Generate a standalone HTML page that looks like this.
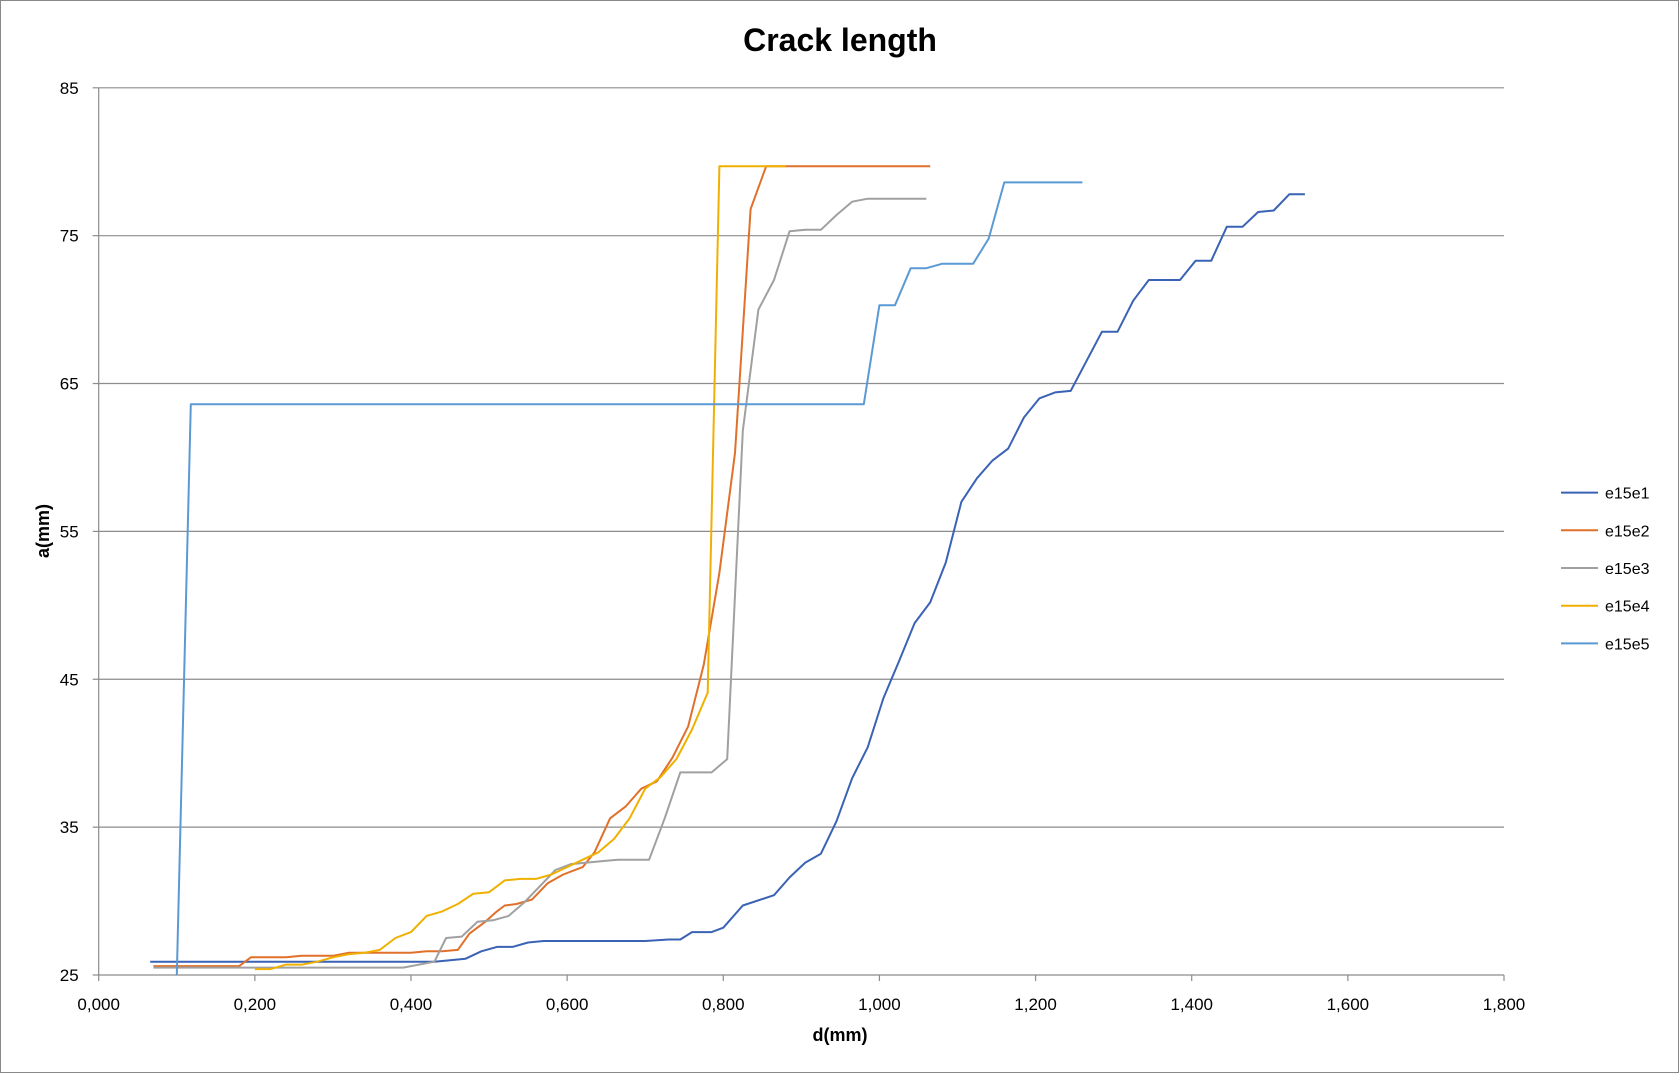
<!DOCTYPE html>
<html><head><meta charset="utf-8"><style>
html,body{margin:0;padding:0;background:#fff;}
svg{display:block;font-family:"Liberation Sans",Calibri,sans-serif;}
</style></head><body>
<svg id="chart" width="1679" height="1073" viewBox="0 0 1679 1073" xmlns="http://www.w3.org/2000/svg">
<rect x="0.5" y="0.5" width="1678" height="1072" fill="#fff" stroke="#888"/>
<text x="840" y="51" text-anchor="middle" font-size="32" font-weight="bold" fill="#000">Crack length</text>
<g id="grid"></g><g id="axes"></g><g id="series"></g><g id="legend"></g>
<text x="840" y="1041" text-anchor="middle" font-size="18" font-weight="bold">d(mm)</text>
<text transform="translate(49,531) rotate(-90)" text-anchor="middle" font-size="18" font-weight="bold">a(mm)</text>
</svg>
<script>
const xTicks=[0,0.2,0.4,0.6,0.8,1.0,1.2,1.4,1.6,1.8];
const xTickLabels=["0,000","0,200","0,400","0,600","0,800","1,000","1,200","1,400","1,600","1,800"];
const yTicks=[25,35,45,55,65,75,85];
const seriesNames=["e15e1","e15e2","e15e3","e15e4","e15e5"];
const seriesColors=["#3a62b5","#e0702a","#a0a0a0","#f0b000","#5a9ad4"];
const e1x=[0.066,0.43,0.47,0.49,0.51,0.53,0.55,0.57,0.70,0.73,0.745,0.76,0.785,0.80,0.825,0.865,0.885,0.905,0.925,0.945,0.965,0.985,1.005,1.025,1.045,1.065,1.085,1.105,1.125,1.145,1.165,1.185,1.205,1.225,1.245,1.285,1.305,1.325,1.345,1.385,1.405,1.425,1.445,1.465,1.485,1.505,1.525,1.545];
const e1y=[25.9,25.9,26.1,26.6,26.9,26.9,27.2,27.3,27.3,27.4,27.4,27.9,27.9,28.2,29.7,30.4,31.6,32.6,33.2,35.4,38.3,40.4,43.7,46.2,48.8,50.2,52.9,57.0,58.6,59.8,60.6,62.7,64.0,64.4,64.5,68.5,68.5,70.6,72.0,72.0,73.3,73.3,75.6,75.6,76.6,76.7,77.8,77.8];
const e2x=[0.07,0.18,0.195,0.24,0.26,0.30,0.32,0.40,0.42,0.44,0.46,0.475,0.495,0.51,0.52,0.535,0.555,0.575,0.595,0.62,0.635,0.655,0.675,0.695,0.715,0.735,0.755,0.775,0.795,0.815,0.835,0.855,1.065];
const e2y=[25.6,25.6,26.2,26.2,26.3,26.3,26.5,26.5,26.6,26.6,26.7,27.8,28.6,29.3,29.7,29.8,30.1,31.2,31.8,32.3,33.3,35.6,36.4,37.6,38.1,39.7,41.8,46.0,52.2,60.3,76.8,79.7,79.7];
const e3x=[0.07,0.39,0.43,0.445,0.465,0.485,0.505,0.525,0.545,0.565,0.585,0.605,0.625,0.645,0.665,0.705,0.725,0.745,0.785,0.805,0.825,0.845,0.865,0.885,0.905,0.925,0.945,0.965,0.985,1.06];
const e3y=[25.5,25.5,25.9,27.5,27.6,28.6,28.7,29.0,29.9,31.0,32.1,32.5,32.6,32.7,32.8,32.8,35.6,38.7,38.7,39.6,61.8,70.0,72.0,75.3,75.4,75.4,76.4,77.3,77.5,77.5];
const e4x=[0.2,0.22,0.24,0.26,0.28,0.30,0.32,0.34,0.36,0.38,0.40,0.42,0.44,0.46,0.48,0.50,0.52,0.54,0.56,0.58,0.60,0.62,0.64,0.66,0.68,0.70,0.72,0.74,0.76,0.78,0.795,0.86,0.88];
const e4y=[25.4,25.4,25.7,25.7,25.9,26.2,26.4,26.5,26.7,27.5,27.9,29.0,29.3,29.8,30.5,30.6,31.4,31.5,31.5,31.8,32.3,32.8,33.3,34.2,35.6,37.6,38.4,39.6,41.6,44.1,79.7,79.7,79.7];
const e5x=[0.10,0.118,0.98,1.0,1.02,1.04,1.06,1.08,1.12,1.14,1.16,1.26];
const e5y=[25.0,63.6,63.6,70.3,70.3,72.8,72.8,73.1,73.1,74.8,78.6,78.6];
const allX=[e1x,e2x,e3x,e4x,e5x], allY=[e1y,e2y,e3y,e4y,e5y];

const NS="http://www.w3.org/2000/svg";
const X0=98.7,X1=1504,Y0=975,Y1=87.8;
function sx(v){return X0+(v-0)/(1.8-0)*(X1-X0);}
function sy(v){return Y0-(v-25)/(85-25)*(Y0-Y1);}
function mk(t,a,p){const e=document.createElementNS(NS,t);for(const k in a)e.setAttribute(k,a[k]);p.appendChild(e);return e;}
const grid=document.getElementById('grid'),axes=document.getElementById('axes'),ser=document.getElementById('series'),leg=document.getElementById('legend');
yTicks.forEach((v,i)=>{
  if(i>0){const l=mk('line',{x1:X0,x2:X1,y1:sy(v),y2:sy(v),stroke:'#8c8c8c','stroke-width':1.2},grid);
  
  }
  const t=mk('text',{x:X0-20,y:sy(v)+6,'text-anchor':'end','font-size':17,fill:'#000'},axes);
  t.textContent=v;
  
  
  const tk=mk('line',{x1:X0-6,x2:X0,y1:sy(v),y2:sy(v),stroke:'#8c8c8c','stroke-width':1.2},axes);
  
  
});
const ya=mk('line',{x1:X0,x2:X0,y1:Y1,y2:Y0,stroke:'#8c8c8c','stroke-width':1.2},axes);


const xa=mk('line',{x1:X0,x2:X1,y1:Y0,y2:Y0,stroke:'#8c8c8c','stroke-width':1.2},axes);


xTicks.forEach((v,i)=>{
  const tk=mk('line',{x1:sx(v),x2:sx(v),y1:Y0,y2:Y0+6,stroke:'#8c8c8c','stroke-width':1.2},axes);
  
  
  const t=mk('text',{x:sx(v),y:Y0+35,'text-anchor':'middle','font-size':17,fill:'#000'},axes);
  t.textContent=xTickLabels[i];
  
  
});
allX.forEach((xs,s)=>{
  const pts=xs.map((x,i)=>sx(x).toFixed(1)+','+sy(allY[s][i]).toFixed(1)).join(' ');
  const p=mk('polyline',{points:pts,fill:'none',stroke:seriesColors[s],'stroke-width':2,'stroke-linejoin':'round'},ser);
  
  
  const ly=492.6+s*37.7;
  const g=mk('g',{},leg);
  
  
  mk('line',{x1:1561,x2:1598,y1:ly,y2:ly,stroke:seriesColors[s],'stroke-width':2},g);
  const t=mk('text',{x:1605,y:ly+6,'font-size':16,fill:'#000'},g);
  t.textContent=seriesNames[s];
});
</script>
</body></html>
